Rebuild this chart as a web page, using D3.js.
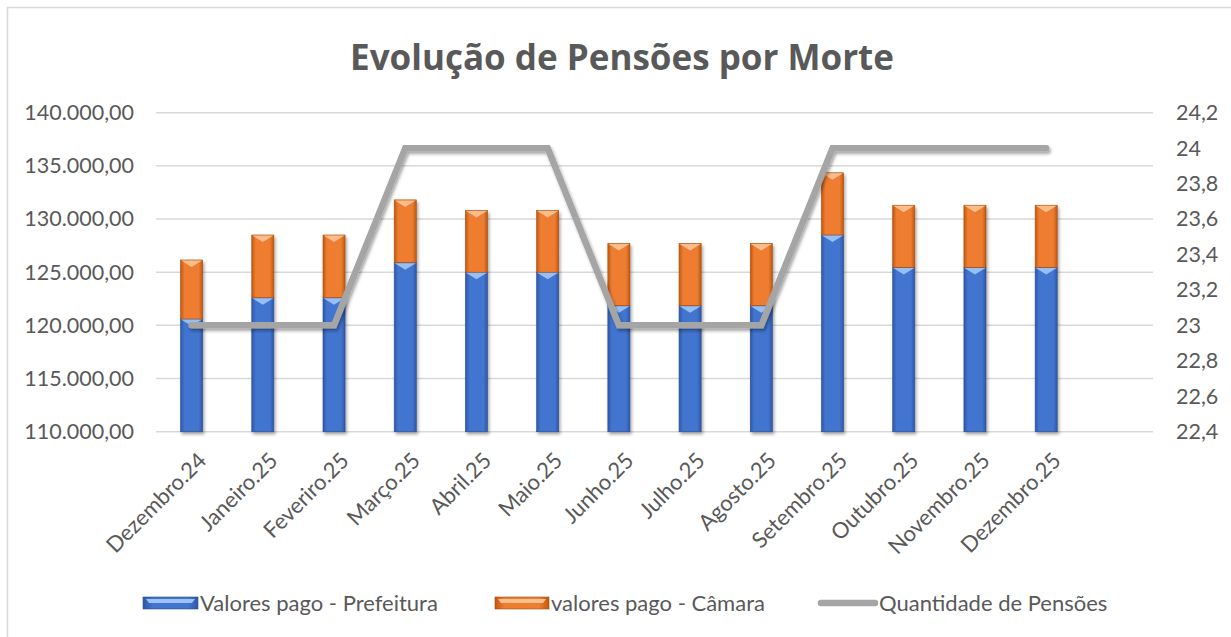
<!DOCTYPE html>
<html>
<head>
<meta charset="utf-8">
<script src="https://cdn.jsdelivr.net/npm/d3@7"></script>
<style>
  body { margin: 0; background: #fff; }
  svg { display: block; font-family: Lato, "Open Sans", sans-serif; }
</style>
</head>
<body>
<div class="container"></div>
<script>
const width = 1231;
const height = 637;
const margin = { top: 112.7, bottom: 205.3, left: 156, right: 78 }

// data
const categories = ["Dezembro.24", "Janeiro.25", "Feveriro.25", "Março.25", "Abril.25", "Maio.25",
    "Junho.25", "Julho.25", "Agosto.25", "Setembro.25", "Outubro.25", "Novembro.25", "Dezembro.25"];
const prefeitura = [120600, 122600, 122600, 125900, 125000, 125000, 121850, 121850, 121850, 128500, 125450, 125450, 125450];
const camara = [5550, 5900, 5900, 5900, 5800, 5800, 5850, 5850, 5850, 5850, 5850, 5850, 5850];
const quantidade = [23, 23, 23, 24, 24, 24, 23, 23, 23, 24, 24, 24, 24];
const leftTicks = [110000, 115000, 120000, 125000, 130000, 135000, 140000];
const rightTicks = [22.4, 22.6, 22.8, 23, 23.2, 23.4, 23.6, 23.8, 24, 24.2];
const seriesNames = ["Valores pago - Prefeitura", "valores pago - Câmara", "Quantidade de Pensões"];

const ptBR = d3.formatLocale({ decimal: ",", thousands: ".", grouping: [3], currency: ["R$", ""] });
const fmtLeft = ptBR.format(",.2f");
const fmtRight = d => ptBR.format("~g")(+d.toFixed(1));

const svg = d3.select(".container")
    .append("svg")
    .attr("width", width)
    .attr("height", height)
    .attr("viewBox", [0, 0, width, height]);

const defs = svg.append("defs");

function barGradient(id, edge, mid) {
    const g = defs.append("linearGradient").attr("id", id).attr("x1", 0).attr("x2", 1).attr("y1", 0).attr("y2", 0);
    g.append("stop").attr("offset", "0%").attr("stop-color", edge);
    g.append("stop").attr("offset", "18%").attr("stop-color", mid);
    g.append("stop").attr("offset", "82%").attr("stop-color", mid);
    g.append("stop").attr("offset", "100%").attr("stop-color", edge);
}
barGradient("gBlue", "#2E58A6", "#4374CF");
barGradient("gOrange", "#C0580F", "#EE7D30");

const shadow = defs.append("filter").attr("id", "shadow")
    .attr("x", "-20%").attr("y", "-20%").attr("width", "140%").attr("height", "140%");
shadow.append("feDropShadow").attr("dx", 1.5).attr("dy", 2.5).attr("stdDeviation", 1.8)
    .attr("flood-color", "#000").attr("flood-opacity", 0.35);

// chart border
svg.append("rect")
    .attr("x", 7.5).attr("y", 7.5)
    .attr("width", width).attr("height", height)
    .attr("fill", "none")
    .attr("stroke", "#D9D9D9")
    .attr("stroke-width", 1.5);

// title
svg.append("text")
    .attr("x", 622).attr("y", 70)
    .attr("text-anchor", "middle")
    .attr("font-family", "'Open Sans', Lato, sans-serif")
    .attr("font-size", 35)
    .attr("font-weight", "bold")
    .attr("fill", "#595959")
    .text("Evolução de Pensões por Morte");

const innerBottom = height - margin.bottom;
const innerRight = width - margin.right;
const step = (innerRight - margin.left) / (categories.length + 1);

const x = d3.scaleBand()
    .domain(categories)
    .range([margin.left, margin.left + step * categories.length])
    .paddingInner(0.69)
    .paddingOuter(0.345);

const y = d3.scaleLinear().domain([110000, 140000]).range([innerBottom, margin.top]);
const yR = d3.scaleLinear().domain([22.4, 24.2]).range([innerBottom, margin.top]);

// gridlines
svg.append("g")
    .selectAll("line")
    .data(leftTicks)
    .join("line")
    .attr("x1", margin.left).attr("x2", innerRight)
    .attr("y1", d => y(d)).attr("y2", d => y(d))
    .attr("stroke", "#D9D9D9")
    .attr("stroke-width", 1.5);

// left axis
const axL = svg.append("g")
    .attr("transform", `translate(${margin.left - 22},0)`)
    .call(d3.axisLeft(y).tickValues(leftTicks).tickFormat(fmtLeft).tickSize(0).tickPadding(0));
axL.select(".domain").remove();
axL.selectAll("text").attr("font-size", 21.5).attr("fill", "#595959").attr("font-family", "Lato");

// right axis
const axR = svg.append("g")
    .attr("transform", `translate(${innerRight + 23},0)`)
    .call(d3.axisRight(yR).tickValues(rightTicks).tickFormat(fmtRight).tickSize(0).tickPadding(0));
axR.select(".domain").remove();
axR.selectAll("text").attr("font-size", 21.5).attr("fill", "#595959").attr("font-family", "Lato");

// x labels
svg.append("g")
    .selectAll("text")
    .data(categories)
    .join("text")
    .attr("transform", d => `translate(${x(d) + x.bandwidth() / 2 + 5},${innerBottom + 19}) rotate(-45)`)
    .attr("text-anchor", "end")
    .attr("dy", "0.72em")
    .attr("font-size", 22)
    .attr("fill", "#595959")
    .text(d => d);

// stacked bars
const rows = categories.map((c, i) => ({ cat: c, p: prefeitura[i], c: camara[i] }));
const segs = [];
rows.forEach(r => {
    segs.push({ cat: r.cat, y0: 110000, y1: r.p, grad: "gBlue", top: "#9DC3F5", stroke: "#2A4F93" });
    segs.push({ cat: r.cat, y0: r.p, y1: r.p + r.c, grad: "gOrange", top: "#F9C08F", stroke: "#A84B0C" });
});

const bars = svg.append("g").attr("filter", "url(#shadow)");
const bw = x.bandwidth();

bars.selectAll("rect")
    .data(segs)
    .join("rect")
    .attr("x", d => x(d.cat))
    .attr("y", d => y(d.y1))
    .attr("width", bw)
    .attr("height", d => y(d.y0) - y(d.y1))
    .attr("fill", d => `url(#${d.grad})`)
    .attr("stroke", d => d.stroke)
    .attr("stroke-width", 0.6);

// bevel chevron at top of each segment
bars.selectAll("path.bevel")
    .data(segs)
    .join("path")
    .attr("class", "bevel")
    .attr("d", d => {
        const x0 = x(d.cat), x1 = x0 + bw, t = y(d.y1);
        return `M${x0 + 0.5},${t + 0.5}L${x1 - 0.5},${t + 0.5}L${x0 + bw / 2},${t + 7}Z`;
    })
    .attr("fill", d => d.top)
    .attr("opacity", 0.95);

// line series
const line = d3.line()
    .x((d, i) => x(categories[i]) + bw / 2)
    .y(d => yR(d));

svg.append("path")
    .datum(quantidade)
    .attr("d", line)
    .attr("fill", "none")
    .attr("stroke", "#A5A5A5")
    .attr("stroke-width", 6.5)
    .attr("stroke-linecap", "round")
    .attr("stroke-linejoin", "miter")
    .attr("filter", "url(#shadow)");

// legend
const legend = svg.append("g").attr("font-size", 22).attr("fill", "#595959");
const legendX = [143, 495, 818];
const ly = 603;

legend.append("rect").attr("x", legendX[0]).attr("y", ly - 6).attr("width", 55).attr("height", 12)
    .attr("fill", "url(#gBlue)").attr("stroke", "#2A4F93").attr("stroke-width", 0.6);
legend.append("path").attr("d", `M${legendX[0] + 3},${ly - 4}H${legendX[0] + 52}L${legendX[0] + 49},${ly}H${legendX[0] + 6}Z`)
    .attr("fill", "#9DC3F5");
legend.append("rect").attr("x", legendX[1]).attr("y", ly - 6).attr("width", 54).attr("height", 12)
    .attr("fill", "url(#gOrange)").attr("stroke", "#A84B0C").attr("stroke-width", 0.6);
legend.append("path").attr("d", `M${legendX[1] + 3},${ly - 4}H${legendX[1] + 51}L${legendX[1] + 48},${ly}H${legendX[1] + 6}Z`)
    .attr("fill", "#F9C08F");
legend.append("line").attr("x1", legendX[2] + 3).attr("x2", legendX[2] + 57).attr("y1", ly).attr("y2", ly)
    .attr("stroke", "#A5A5A5").attr("stroke-width", 6.5).attr("stroke-linecap", "round");

legend.selectAll("text.lg")
    .data(seriesNames)
    .join("text")
    .attr("class", "lg")
    .attr("x", (d, i) => legendX[i] + [57, 56, 61][i])
    .attr("y", ly)
    .attr("dy", "0.35em")
    .text(d => d);
</script>
</body>
</html>
